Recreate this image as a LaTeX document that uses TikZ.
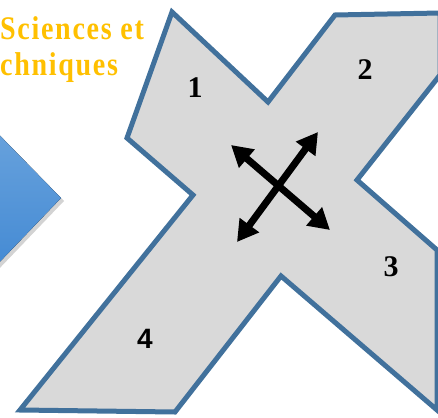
\documentclass[tikz,border=0pt]{standalone}
\usepackage{fontspec}
\setmainfont{Liberation Serif}
\newfontfamily\arialfont{Liberation Sans}
\usetikzlibrary{arrows.meta,shadows}
\definecolor{xfill}{HTML}{D9D9D9}
\definecolor{xline}{HTML}{41719C}
\definecolor{gold}{HTML}{FFC000}
\definecolor{bluetop}{HTML}{6EA6DE}
\definecolor{bluebot}{HTML}{3E86D2}
\tikzset{
  numlabel/.style={inner sep=0pt, font=\fontsize{30}{30}\selectfont\bfseries},
  titletext/.style={inner sep=0pt, anchor=base west, text=gold,
    font=\fontsize{33}{33}\selectfont\bfseries\addfontfeature{LetterSpace=6}},
  movearrow/.style={line width=7pt, {Triangle[length=21pt,width=23pt]}-{Triangle[length=21pt,width=23pt]}}
}
\begin{document}
\begin{tikzpicture}[x=1pt,y=-1pt]
\useasboundingbox (0,0) rectangle (438,417);
\clip (0,0) rectangle (438,417);
% blue chevron
\fill[drop shadow={shadow xshift=3pt, shadow yshift=-3pt, opacity=0.35}, top color=bluetop, bottom color=bluebot]
  (-30,105) -- (61,198) -- (-30,293) -- cycle;
% title text
\node[titletext] (t1) at (0,40) {\scalebox{0.85}[1]{Sciences et}};
\node[titletext] (t2) at (0,76) {\scalebox{0.85}[1]{chniques}};
% X shape
\draw[fill=xfill, draw=xline, line width=5pt, line join=miter]
  (172,12) -- (268,102) -- (335,15) -- (440,13) -- (440,75) -- (357,180)
  -- (437,250) -- (437,410) -- (281,276) -- (175,412) -- (20,410)
  -- (193,195) -- (127,138) -- cycle;
% numbers
\node[numlabel] (n1) at (195,88) {1};
\node[numlabel] (n2) at (365,70) {2};
\node[numlabel] (n3) at (391,267) {3};
\node[numlabel, font=\fontsize{28}{28}\selectfont\bfseries\arialfont] (n4) at (145,339) {4};
% arrows
\coordinate (a1) at (231,145);
\coordinate (a2) at (330,230);
\coordinate (b1) at (318,132);
\coordinate (b2) at (237,242);
\draw[movearrow] (a1) -- (a2);
\draw[movearrow] (b1) -- (b2);
\end{tikzpicture}
\end{document}
